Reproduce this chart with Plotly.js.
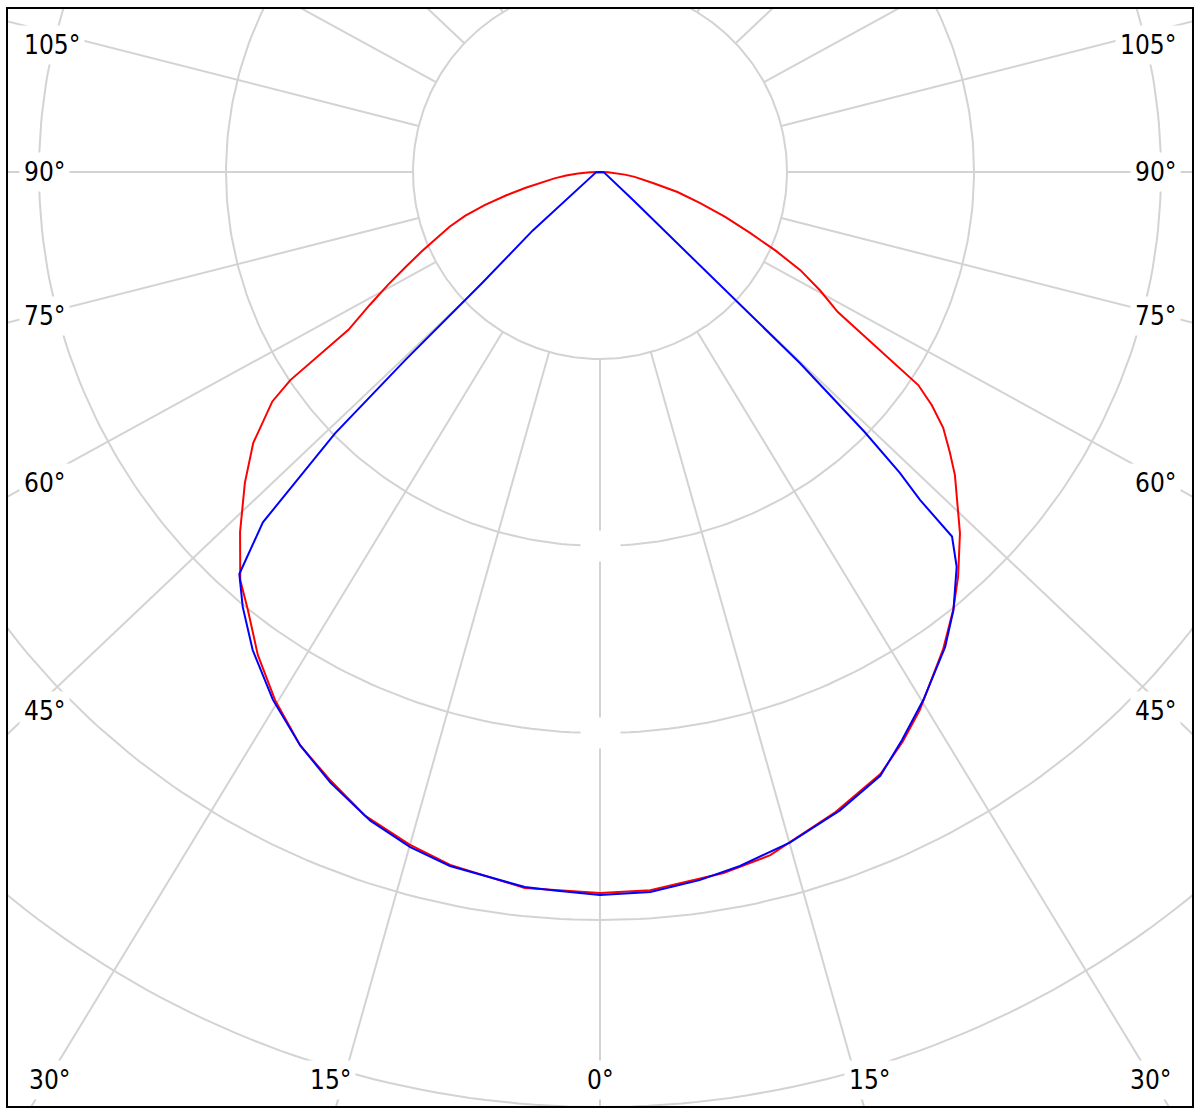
<!DOCTYPE html>
<html><head><meta charset="utf-8">
<script src="https://cdn.plot.ly/plotly-3.0.1.min.js"></script>
<style>html,body{margin:0;padding:0;background:#fff}#chart{width:1200px;height:1120px}</style>
</head><body><div id="chart"></div>
<script>
// ---- data ----
const ringValues = [100, 200, 300, 400, 500];
const rayAngles = [-180,-165,-150,-135,-120,-105,-90,-75,-60,-45,-30,-15,0,15,30,45,60,75,90,105,120,135,150,165];
const labelAngles = [-105,-90,-75,-60,-45,-30,-15,0,15,30,45,60,75,90,105];
const labelTexts = ['105°','90°','75°','60°','45°','30°','15°','0°','15°','30°','45°','60°','75°','90°','105°'];
const blankLabelRings = [200, 300];

const redAngles = [-90,-88,-86,-84,-82,-80,-78,-76,-74,-72,-70,-68,-66,-64,-62,-60,-57.9,-56.1,-55,-52,-48.8,-45,-41.4,-38.8,-35.3,-31.6,-27.6,-24,-20.1,-15.8,-12.2,-6,0,
  4,10,14,20.2,25,28,30.7,35.7,38.9,41.5,44.9,48,49.5,51.3,53.3,54.9,56.2,59.5,61.7,63.9,65.9,67.9,70.3,72.8,75.5,78.3,80,82,84,86,88,90];
const redValues = [0,5.3,11.8,18.2,24.6,31.0,40.6,51.9,64.2,75.9,85.6,94.1,104.3,115.5,128.3,142.2,158.8,199.5,213.9,235.3,252.4,272.2,290.9,300.5,316.6,331.6,346.0,355.6,366.3,373.8,379.1,385.0,385.6,
  385.0,380.7,376.5,364.7,355.1,344.9,334.8,314.4,300.8,289.0,272.7,256.7,249.6,239.7,228.9,216.9,204.8,147.6,133.7,119.3,102.7,86.6,71.1,56.1,42.8,28.9,24.1,18.7,13.4,8.6,4.3,0];

const blueAngles = [-90,-88,-49,-46.7,-46,-45.4,-43.9,-41.9,-39.4,-36,-31.8,-27.6,-23.8,-19.5,-15.7,-12.2,-6,-3.6,0,4,8,11.4,15.8,20.6,24.9,28,31.5,36,38.9,42.1,44,44.3,44.9,45.5,46.3,47,49.7,88,90];
const blueValues = [0,2,47.6,86.6,145,199,260,288.8,301,316,332,346,357,368,375,379.7,384.5,385,386.6,386,382.4,378.6,372.7,364.7,356,344,331,314,301,284.5,271,245,227,198.4,148,75,23,2,0];

// ---- geometry helpers ----
const D = Math.PI / 180;
function px(a, v) { return v * Math.sin(a * D); }
function py(a, v) { return -v * Math.cos(a * D); }

const pxPerUnit = 1.87;
const xHalf = 592 / pxPerUnit;
const yTop = 163 / pxPerUnit, yBot = -934 / pxPerUnit;
const rayStretch = 1.054;   // spokes are drawn slightly widened horizontally, as in the original

const gridColor = '#d3d3d3';
const traces = [];
// rings
ringValues.forEach(r => {
  const xs = [], ys = [];
  for (let a = 0; a <= 360; a += 1) { xs.push(px(a, r)); ys.push(py(a, r)); }
  traces.push({type:'scatter', mode:'lines', x:xs, y:ys, line:{color:gridColor, width:2}, hoverinfo:'skip', showlegend:false});
});
// rays
const rayStart = ringValues[0], rayEnd = 900;
rayAngles.forEach(a => {
  let dx = rayStretch * Math.sin(a * D), dy = -Math.cos(a * D);
  const n = Math.hypot(dx, dy); dx /= n; dy /= n;
  traces.push({type:'scatter', mode:'lines', x:[dx * rayStart, dx * rayEnd], y:[dy * rayStart, dy * rayEnd],
    line:{color:gridColor, width:2}, hoverinfo:'skip', showlegend:false});
});
// curves
traces.push({type:'scatter', mode:'lines', name:'C0-C180', x:redAngles.map((a,i)=>px(a, redValues[i])), y:redAngles.map((a,i)=>py(a, redValues[i])),
  line:{color:'#ff0000', width:2}, showlegend:false});
traces.push({type:'scatter', mode:'lines', name:'C90-C270', x:blueAngles.map((a,i)=>px(a, blueValues[i])), y:blueAngles.map((a,i)=>py(a, blueValues[i])),
  line:{color:'#0000ff', width:2}, showlegend:false});

// ---- labels ----
const annotations = [];
const font = {family:'DejaVu Sans Condensed, DejaVu Sans, Verdana, sans-serif', size:26, color:'#000'};
labelAngles.forEach((a, i) => {
  const s = Math.sign(a), abs = Math.abs(a);
  let x, y, xanchor;
  if (abs <= 30) {
    const dy = 908 / pxPerUnit;
    const off = abs === 0 ? 0 : (908 * Math.tan(abs * D) + 26) / pxPerUnit;
    x = s * off; y = -dy; xanchor = 'center';
  } else {
    const dx = 539 / pxPerUnit;
    y = -dx / Math.tan(abs * D);
    if (abs === 90) y = 0;
    y = Math.min(y, 127 / pxPerUnit);
    x = s * (581 / pxPerUnit);
    xanchor = s < 0 ? 'left' : 'right';
  }
  annotations.push({x, y, xref:'x', yref:'y', text:labelTexts[i], showarrow:false, font, xanchor, yanchor:'middle',
    bgcolor:'#ffffff', borderpad:4});
});
blankLabelRings.forEach(r => {
  annotations.push({x:0, y:-r, xref:'x', yref:'y', text:' ', showarrow:false, width:39, height:30, bgcolor:'#ffffff', borderpad:0, font});
});

const layout = {
  width:1200, height:1120,
  margin:{l:8, r:8, t:9, b:14, pad:0},
  paper_bgcolor:'#fff', plot_bgcolor:'#fff',
  xaxis:{range:[-xHalf, xHalf], showgrid:false, zeroline:false, showticklabels:false, ticks:'',
    showline:true, mirror:true, linecolor:'#000', linewidth:2, fixedrange:true},
  yaxis:{range:[yBot, yTop], showgrid:false, zeroline:false, showticklabels:false, ticks:'',
    showline:true, mirror:true, linecolor:'#000', linewidth:2, fixedrange:true},
  annotations,
  showlegend:false
};
Plotly.newPlot('chart', traces, layout, {displayModeBar:false, staticPlot:true});
</script></body></html>
